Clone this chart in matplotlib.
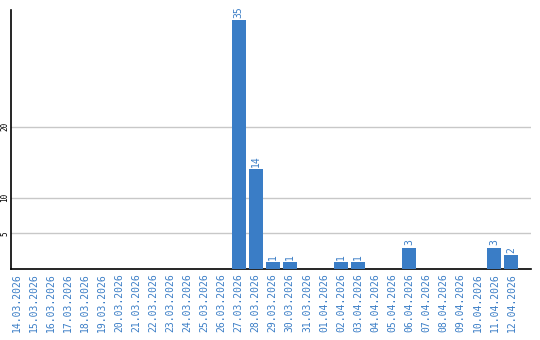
import matplotlib
matplotlib.use("Agg")
import matplotlib.pyplot as plt

dates = ["14.03.2026", "15.03.2026", "16.03.2026", "17.03.2026", "18.03.2026",
         "19.03.2026", "20.03.2026", "21.03.2026", "22.03.2026", "23.03.2026",
         "24.03.2026", "25.03.2026", "26.03.2026", "27.03.2026", "28.03.2026",
         "29.03.2026", "30.03.2026", "31.03.2026", "01.04.2026", "02.04.2026",
         "03.04.2026", "04.04.2026", "05.04.2026", "06.04.2026", "07.04.2026",
         "08.04.2026", "09.04.2026", "10.04.2026", "11.04.2026", "12.04.2026"]
counts = [0, 0, 0, 0, 0, 0, 0, 0, 0, 0, 0, 0, 0, 35, 14,
          1, 1, 0, 0, 1, 1, 0, 0, 3, 0, 0, 0, 0, 3, 2]
yticks = [5, 10, 20]

blue = "#3a7dc6"

fig = plt.figure(figsize=(5.4, 3.4), dpi=100)
ax = fig.add_axes([0.0195, 0.209, 0.964, 0.762])

x = list(range(len(dates)))
ax.bar(x, counts, width=0.82, color=blue, zorder=3)
for i, v in zip(x, counts):
    if v > 0:
        ax.text(i, v + 0.3, str(v), rotation=90, ha="center", va="bottom",
                color=blue, fontsize=7, family="DejaVu Sans Mono")

ax.set_xlim(-0.38, 30.15)
ax.set_ylim(0, 36.4)
ax.set_yticks(yticks)
ax.set_yticklabels([str(t) for t in yticks], rotation=90, va="center",
                   fontsize=5.5, family="DejaVu Sans Mono")
ax.set_xticks(x)
ax.set_xticklabels(dates, rotation=90, fontsize=7, color=blue,
                   family="DejaVu Sans Mono")
ax.tick_params(axis="both", length=0, pad=3)
ax.tick_params(axis="y", pad=1)
ax.grid(axis="y", color="#c8c8c8", linewidth=1, zorder=0)
for s in ["top", "right"]:
    ax.spines[s].set_visible(False)
ax.spines["left"].set_linewidth(1.2)
ax.spines["bottom"].set_linewidth(1.2)

fig.savefig("out.png", dpi=100)
